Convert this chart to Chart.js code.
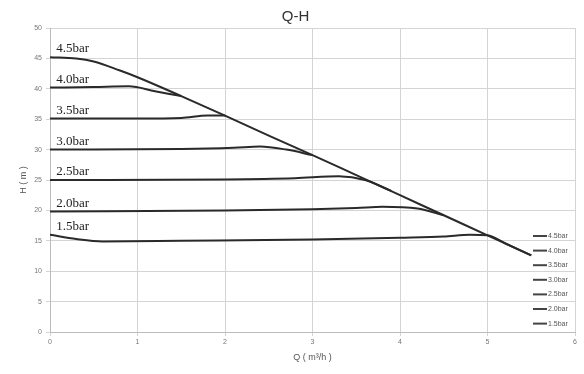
<!DOCTYPE html>
<html lang="en">
<head>
  <meta charset="UTF-8" />
  <title>Q-H</title>
  <script src="https://cdn.jsdelivr.net/npm/chart.js"></script>
  <style>
    body { margin: 0; background: #fff; }
    #wrap { width: 584px; height: 374px; }
  </style>
</head>
<body>
  <div id="wrap"><canvas id="qh"></canvas></div>
  <script>
    // flow Q (m3/h) and head H (m) for each pressure setting
    const labels = ['4.5bar', '4.0bar', '3.5bar', '3.0bar', '2.5bar', '2.0bar', '1.5bar'];

    const q45 = [0, 0.3, 0.5, 0.8, 1, 1.5, 2, 2.5, 3, 3.5, 4, 4.5, 5, 5.5];
    const h45 = [45.2, 45.0, 44.5, 43.0, 41.9, 38.8, 35.6, 32.3, 29.1, 25.8, 22.5, 19.2, 15.9, 12.6];

    const q40 = [0, 0.5, 0.9, 1.2, 1.5];
    const h40 = [40.2, 40.3, 40.4, 39.6, 38.8];

    const q35 = [0, 1.0, 1.5, 1.8, 2.0];
    const h35 = [35.1, 35.1, 35.2, 35.6, 35.6];

    const q30 = [0, 1.5, 2.1, 2.4, 2.7, 3.0];
    const h30 = [30.0, 30.1, 30.3, 30.5, 30.0, 29.1];

    const q25 = [0, 2.0, 2.8, 3.3, 3.6, 3.9];
    const h25 = [25.0, 25.1, 25.3, 25.6, 25.0, 23.2];

    const q20 = [0, 2.0, 3.0, 3.5, 3.8, 4.2, 4.5];
    const h20 = [19.8, 20.0, 20.2, 20.4, 20.6, 20.3, 19.2];

    const q15 = [0, 0.3, 0.6, 1.5, 3.0, 4.0, 4.5, 4.8, 5.0, 5.2, 5.5];
    const h15 = [16.0, 15.3, 14.9, 15.0, 15.2, 15.5, 15.7, 16.0, 15.9, 14.6, 12.6];

    const xTicks = [0, 1, 2, 3, 4, 5, 6];
    const yTicks = [0, 5, 10, 15, 20, 25, 30, 35, 40, 45, 50];

    const qs = [q45, q40, q35, q30, q25, q20, q15];
    const hs = [h45, h40, h35, h30, h25, h20, h15];

    const datasets = labels.map((lab, i) => ({
      label: lab,
      data: qs[i].map((q, j) => ({ x: q, y: hs[i][j] })),
      borderColor: '#2a2a2a',
      borderWidth: 2,
      pointRadius: 0,
      fill: false,
      cubicInterpolationMode: 'monotone'
    }));

    // bar labels above each curve start + small legend in the lower right
    const annotate = {
      id: 'annotate',
      afterDatasetsDraw(chart) {
        const ctx = chart.ctx;
        const xs = chart.scales.x, ys = chart.scales.y;
        ctx.save();
        ctx.fillStyle = '#222';
        ctx.font = '13px "Liberation Serif", "DejaVu Serif", serif';
        ctx.textAlign = 'left';
        ctx.textBaseline = 'bottom';
        chart.data.datasets.forEach(ds => {
          const p = ds.data[0];
          ctx.fillText(ds.label, xs.getPixelForValue(0.07), ys.getPixelForValue(p.y) - 2);
        });

        ctx.font = '7px "Liberation Sans", Arial, sans-serif';
        ctx.textBaseline = 'middle';
        chart.data.datasets.forEach((ds, i) => {
          const y = 236 + i * 14.6;
          ctx.strokeStyle = '#444';
          ctx.lineWidth = 2;
          ctx.beginPath();
          ctx.moveTo(533, y);
          ctx.lineTo(547, y);
          ctx.stroke();
          ctx.fillStyle = '#555';
          ctx.fillText(ds.label, 548, y);
        });
        ctx.restore();
      }
    };

    new Chart(document.getElementById('qh'), {
      type: 'line',
      data: { datasets },
      plugins: [annotate],
      options: {
        responsive: true,
        maintainAspectRatio: false,
        animation: false,
        layout: { padding: { left: 16, right: 9, top: 0, bottom: 11 } },
        plugins: {
          legend: { display: false },
          tooltip: { enabled: false },
          title: {
            display: true,
            text: 'Q-H',
            color: '#333',
            font: { family: 'Liberation Sans, Arial, sans-serif', size: 15, weight: 'normal' },
            padding: { top: 8, bottom: 2 }
          }
        },
        scales: {
          x: {
            type: 'linear',
            min: 0,
            max: 6,
            afterBuildTicks: s => { s.ticks = xTicks.map(v => ({ value: v })); },
            grid: { color: '#d4d4d4', tickLength: 4 },
            border: { color: '#bbb' },
            ticks: { color: '#777', font: { size: 7 }, padding: 2, maxRotation: 0 },
            title: {
              display: true,
              text: 'Q ( m³/h )',
              color: '#555',
              font: { size: 9 },
              padding: { top: 1, bottom: 0 }
            },
            afterFit: s => { s.height = 31; }
          },
          y: {
            min: 0,
            max: 50,
            afterBuildTicks: s => { s.ticks = yTicks.map(v => ({ value: v })); },
            grid: { color: '#d4d4d4', tickLength: 4 },
            border: { color: '#bbb' },
            ticks: { color: '#777', font: { size: 7 }, padding: 4 },
            title: {
              display: true,
              text: 'H ( m )',
              color: '#555',
              font: { size: 9 },
              padding: 2
            },
            afterFit: s => { s.width = 34; }
          }
        }
      }
    });
  </script>
</body>
</html>
